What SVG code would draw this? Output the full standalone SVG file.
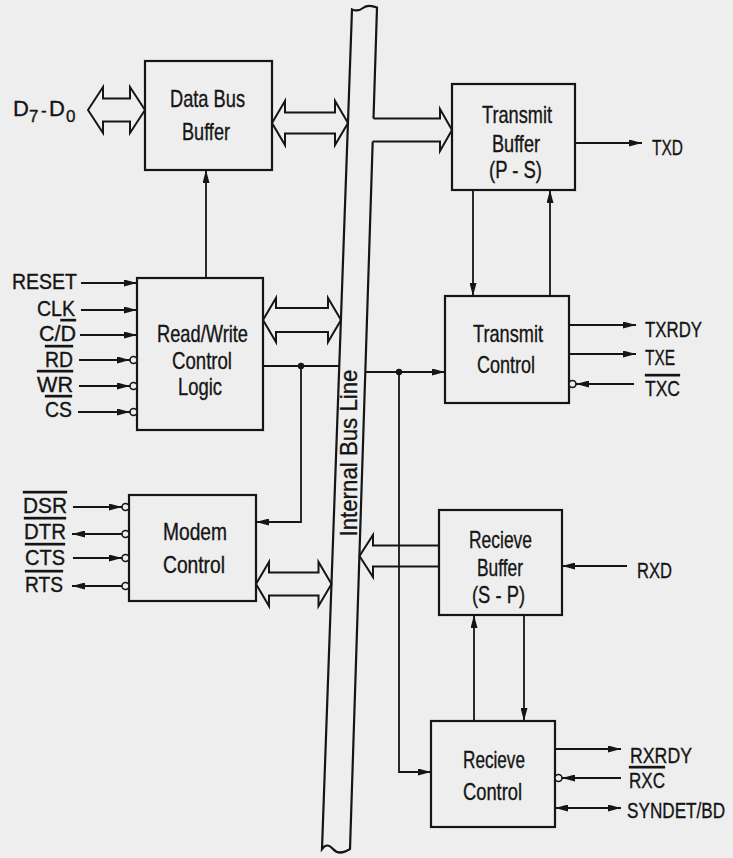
<svg xmlns="http://www.w3.org/2000/svg" width="733" height="858" viewBox="0 0 733 858">
<style>
.bx{fill:none;stroke:#151515;stroke-width:2.2}
.ln{fill:none;stroke:#151515;stroke-width:1.8}
.ar{marker-end:url(#ah)}
.ar2{marker-start:url(#ah);marker-end:url(#ah)}
.ho{fill:none;stroke:#151515;stroke-width:2;stroke-linejoin:miter}
.bub{fill:#eeeeee;stroke:#151515;stroke-width:1.6}
.t{font-family:"Liberation Sans","Arial",sans-serif;font-size:24px;fill:#151515;stroke:#151515;stroke-width:0.35;text-anchor:middle}
.s{font-family:"Liberation Sans","Arial",sans-serif;font-size:22px;fill:#151515;stroke:#151515;stroke-width:0.35}
.ov{text-decoration:overline}
</style>
<defs>
<marker id="ah" viewBox="0 0 13 7" refX="13" refY="3.5" markerWidth="13" markerHeight="7" markerUnits="userSpaceOnUse" orient="auto-start-reverse"><path d="M0,0 L13,3.5 L0,7 Z" fill="#151515"/></marker>
</defs>
<rect x="0" y="0" width="733" height="858" fill="#eeeeee"/>

<g id="n-bus">
<path class="bx" d="M373.5,118.5 L377,7.5 Q368,4 363,8 Q358,12 352,9.5 L322,849 Q327,842 333,849 T350,849 L372.7,141.5"/>
<text class="t" font-size="23" transform="translate(357,453) rotate(-90)" textLength="167" lengthAdjust="spacingAndGlyphs">Internal Bus Line</text>
</g>

<g id="n-dbb">
<rect class="bx" x="145" y="61" width="127" height="109"/>
<text class="t" x="207.5" y="107" textLength="75" lengthAdjust="spacingAndGlyphs">Data Bus</text>
<text class="t" x="206" y="140" textLength="48" lengthAdjust="spacingAndGlyphs">Buffer</text>
</g>

<g id="n-rwcl">
<rect class="bx" x="137" y="278" width="126" height="152"/>
<text class="t" x="202.5" y="342" textLength="91" lengthAdjust="spacingAndGlyphs">Read/Write</text>
<text class="t" x="202" y="369" textLength="60" lengthAdjust="spacingAndGlyphs">Control</text>
<text class="t" x="200" y="395" textLength="44" lengthAdjust="spacingAndGlyphs">Logic</text>
</g>

<g id="n-modem">
<rect class="bx" x="129" y="495" width="127" height="106"/>
<text class="t" x="195" y="540" textLength="64" lengthAdjust="spacingAndGlyphs">Modem</text>
<text class="t" x="194" y="573" textLength="62" lengthAdjust="spacingAndGlyphs">Control</text>
</g>

<g id="n-tb">
<rect class="bx" x="452" y="84" width="123" height="106"/>
<text class="t" x="517" y="123" textLength="70" lengthAdjust="spacingAndGlyphs">Transmit</text>
<text class="t" x="516" y="152" textLength="48" lengthAdjust="spacingAndGlyphs">Buffer</text>
<text class="t" x="515.5" y="178" textLength="53" lengthAdjust="spacingAndGlyphs">(P - S)</text>
</g>

<g id="n-tc">
<rect class="bx" x="445" y="296" width="124" height="107"/>
<text class="t" x="508" y="342" textLength="70" lengthAdjust="spacingAndGlyphs">Transmit</text>
<text class="t" x="506" y="373" textLength="58" lengthAdjust="spacingAndGlyphs">Control</text>
</g>

<g id="n-rb">
<rect class="bx" x="439" y="510" width="123" height="105"/>
<text class="t" x="500.5" y="548" textLength="63" lengthAdjust="spacingAndGlyphs">Recieve</text>
<text class="t" x="500" y="576" textLength="46" lengthAdjust="spacingAndGlyphs">Buffer</text>
<text class="t" x="498.5" y="603" textLength="53" lengthAdjust="spacingAndGlyphs">(S - P)</text>
</g>

<g id="n-rc">
<rect class="bx" x="431" y="721" width="124" height="106"/>
<text class="t" x="494" y="768" textLength="62" lengthAdjust="spacingAndGlyphs">Recieve</text>
<text class="t" x="492.5" y="800" textLength="59" lengthAdjust="spacingAndGlyphs">Control</text>
</g>

<g id="connectors">
<polygon class="ho" points="88,110 103,87 103,98.5 130,98.5 130,87 145,110 130,133 130,121.5 103,121.5 103,133"/>
<polygon class="ho" points="272,123 285,101 285,112.5 335,112.5 335,101 348,123 335,145 335,133.5 285,133.5 285,145"/>
<polyline class="ho" points="373.5,118.5 440,118.5 440,109 452,130 440,151 440,141.5 372.7,141.5"/>
<polygon class="ho" points="263,320 276,298 276,308 328,308 328,298 341,320 328,342 328,332 276,332 276,342"/>
<polygon class="ho" points="256,584 269,562 269,572.5 318.5,572.5 318.5,562 331.5,584 318.5,606 318.5,595.5 269,595.5 269,606"/>
<polyline class="ho" points="439,545.5 373,545.5 373,535 359.5,556 373,577 373,566.5 439,566.5"/>

<line class="ln ar" x1="206" y1="278" x2="206" y2="170"/>
<line class="ln" x1="263" y1="366" x2="339" y2="366"/>
<polyline class="ln ar" points="301,366 301,522 256,522"/>
<circle cx="301" cy="366" r="3.2" fill="#151515"/>
<line class="ln ar" x1="365.5" y1="372" x2="445" y2="372"/>
<polyline class="ln ar" points="399,372 399,772 431,772"/>
<circle cx="399" cy="372" r="3.2" fill="#151515"/>

<line class="ln ar" x1="473" y1="190" x2="473" y2="296"/>
<line class="ln ar" x1="550" y1="296" x2="550" y2="190"/>
<line class="ln ar" x1="474" y1="721" x2="474" y2="615"/>
<line class="ln ar" x1="524" y1="615" x2="524" y2="721"/>

<line class="ln ar" x1="81" y1="283" x2="137" y2="283"/>
<line class="ln ar" x1="81" y1="310" x2="137" y2="310"/>
<line class="ln ar" x1="80" y1="335" x2="137" y2="335"/>
<line class="ln ar" x1="79" y1="360" x2="130" y2="360"/>
<circle class="bub" cx="133.5" cy="360" r="3.5"/>
<line class="ln ar" x1="79" y1="386" x2="130" y2="386"/>
<circle class="bub" cx="133.5" cy="386" r="3.5"/>
<line class="ln ar" x1="78" y1="412" x2="130" y2="412"/>
<circle class="bub" cx="133.5" cy="412" r="3.5"/>

<line class="ln ar" x1="73" y1="507" x2="122" y2="507"/>
<circle class="bub" cx="125.5" cy="507" r="3.5"/>
<line class="ln ar" x1="122" y1="534" x2="72" y2="534"/>
<circle class="bub" cx="125.5" cy="534" r="3.5"/>
<line class="ln ar" x1="73" y1="558" x2="122" y2="558"/>
<circle class="bub" cx="125.5" cy="558" r="3.5"/>
<line class="ln ar" x1="122" y1="586" x2="72" y2="586"/>
<circle class="bub" cx="125.5" cy="586" r="3.5"/>

<line class="ln ar" x1="575" y1="143" x2="642" y2="143"/>
<line class="ln ar" x1="569" y1="325" x2="636" y2="325"/>
<line class="ln ar" x1="569" y1="354" x2="636" y2="354"/>
<line class="ln ar" x1="634" y1="384" x2="576" y2="384"/>
<circle class="bub" cx="572.5" cy="384" r="3.5"/>

<line class="ln ar" x1="627" y1="566" x2="562" y2="566"/>
<line class="ln ar" x1="555" y1="749" x2="621" y2="749"/>
<line class="ln ar" x1="621" y1="778" x2="562" y2="778"/>
<circle class="bub" cx="558.5" cy="778" r="3.5"/>
<line class="ln ar2" x1="555" y1="808" x2="621" y2="808"/>
</g>

<g id="signals">
<text class="s" y="116"><tspan x="13">D</tspan><tspan x="29" y="122" font-size="17">7</tspan><tspan x="41" y="116" font-size="17">-</tspan><tspan x="49" y="116">D</tspan><tspan x="66" y="122" font-size="17">0</tspan></text>
<text class="s" x="12" y="289" textLength="65" lengthAdjust="spacingAndGlyphs">RESET</text>
<text class="s" x="37" y="316" textLength="38" lengthAdjust="spacingAndGlyphs">CLK</text>
<text class="s" x="39" y="341" textLength="37" lengthAdjust="spacingAndGlyphs">C/<tspan class="ov">D</tspan></text>
<text class="s ov" x="45" y="367" textLength="28" lengthAdjust="spacingAndGlyphs">RD</text>
<text class="s ov" x="37" y="392" textLength="36" lengthAdjust="spacingAndGlyphs">WR</text>
<text class="s ov" x="45" y="417" textLength="27" lengthAdjust="spacingAndGlyphs">CS</text>

<text class="s ov" x="23" y="513" textLength="44" lengthAdjust="spacingAndGlyphs">DSR</text>
<text class="s ov" x="24" y="539" textLength="42" lengthAdjust="spacingAndGlyphs">DTR</text>
<text class="s ov" x="25" y="565" textLength="40" lengthAdjust="spacingAndGlyphs">CTS</text>
<text class="s ov" x="25" y="592" textLength="38" lengthAdjust="spacingAndGlyphs">RTS</text>

<text class="s" x="652" y="155" textLength="31" lengthAdjust="spacingAndGlyphs">TXD</text>
<text class="s" x="645" y="337" textLength="57" lengthAdjust="spacingAndGlyphs">TXRDY</text>
<text class="s" x="645" y="365" textLength="30" lengthAdjust="spacingAndGlyphs">TXE</text>
<text class="s ov" x="645" y="396" textLength="35" lengthAdjust="spacingAndGlyphs">TXC</text>

<text class="s" x="637" y="578" textLength="35" lengthAdjust="spacingAndGlyphs">RXD</text>
<text class="s" x="630" y="763" textLength="62" lengthAdjust="spacingAndGlyphs">RXRDY</text>
<text class="s ov" x="629" y="788" textLength="36" lengthAdjust="spacingAndGlyphs">RXC</text>
<text class="s" transform="translate(627,818) scale(0.78,1)" x="0" y="0">SYNDET/BD</text>
</g>
</svg>
